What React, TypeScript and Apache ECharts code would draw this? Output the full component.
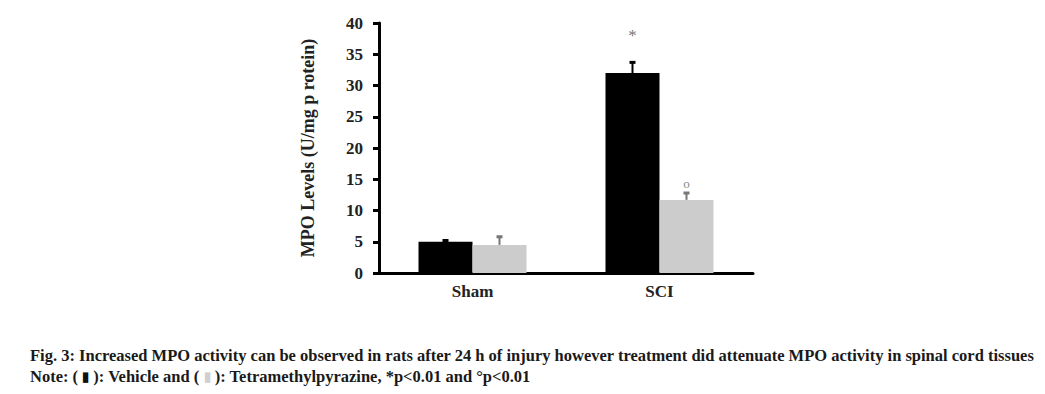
import React, { useEffect, useRef } from "react";
import * as echarts from "echarts";

const categories = ["Sham", "SCI"];
const vehicle = [5.0, 32.0];
const vehicleErr = [0.2, 1.7];
const tmp = [4.5, 11.7];
const tmpErr = [1.3, 1.1];
const vehicleMarks = ["", "*"];
const tmpMarks = ["", "o"];
const yTicks = [0, 5, 10, 15, 20, 25, 30, 35, 40];

const caption1 =
  "Fig. 3: Increased MPO activity can be observed in rats after 24 h of injury however treatment did attenuate MPO activity in spinal cord tissues";
const caption2 =
  "Note: ( {b|\u25AE} ): Vehicle and ( {g|\u25AE} ): Tetramethylpyrazine, *p<0.01 and \u00B0p<0.01";

const FONT = "'Liberation Serif', 'Times New Roman', serif";
const BAR_W = 54;

function errorSeries(name: string, values: number[], errs: number[], marks: string[], side: number, color: string, markColor: string, markSize: number, markGap: number) {
  return {
    type: "custom",
    name,
    z: 5,
    data: values.map((v, i) => [i, v, errs[i]]),
    renderItem: (params: any, api: any) => {
      const idx = api.value(0);
      const v = api.value(1);
      const e = api.value(2);
      const mark = marks[params.dataIndex];
      const base = api.coord([idx, v]);
      const top = api.coord([idx, v + e]);
      const x = base[0] + side * (BAR_W / 2);
      const children: any[] = [
        { type: "line", shape: { x1: x, y1: base[1], x2: x, y2: top[1] }, style: { stroke: color, lineWidth: 2 } },
        { type: "line", shape: { x1: x - 3, y1: top[1], x2: x + 3, y2: top[1] }, style: { stroke: color, lineWidth: 3 } },
      ];
      if (mark) {
        children.push({
          type: "text",
          style: {
            text: mark,
            x,
            y: top[1] - markGap,
            align: "center",
            verticalAlign: "middle",
            fill: markColor,
            font: `${markSize}px ${FONT}`,
          },
        });
      }
      return { type: "group", children };
    },
  };
}

export default function App() {
  const ref = useRef<HTMLDivElement>(null);
  useEffect(() => {
    if (!ref.current) return;
    const chart = echarts.init(ref.current, null, { renderer: "svg" });
    chart.setOption({
      animation: false,
      backgroundColor: "#ffffff",
      grid: { left: 379, right: 292, top: 23, bottom: 121 },
      xAxis: {
        type: "category",
        data: categories,
        axisLine: { lineStyle: { color: "#000", width: 3 } },
        axisTick: { show: false },
        axisLabel: { color: "#222", fontFamily: FONT, fontWeight: "bold", fontSize: 17, margin: 10 },
      },
      yAxis: {
        type: "value",
        min: 0,
        max: 40,
        interval: 5,
        name: "MPO Levels (U/mg p rotein)",
        nameLocation: "middle",
        nameGap: 62,
        nameTextStyle: { color: "#222", fontFamily: FONT, fontWeight: "bold", fontSize: 18 },
        splitLine: { show: false },
        axisLine: { show: true, lineStyle: { color: "#000", width: 3 } },
        axisTick: { show: true, length: 6, lineStyle: { color: "#000", width: 3 } },
        axisLabel: {
          color: "#222",
          fontFamily: FONT,
          fontWeight: "bold",
          fontSize: 17,
          margin: 16,
          formatter: (v: number) => (yTicks.includes(v) ? String(v) : ""),
        },
      },
      series: [
        { type: "bar", name: "Vehicle", data: vehicle, barWidth: BAR_W, barGap: "0%", itemStyle: { color: "#000000" } },
        { type: "bar", name: "Tetramethylpyrazine", data: tmp, barWidth: BAR_W, barGap: "0%", itemStyle: { color: "#cccccc" } },
        errorSeries("VehicleErr", vehicle, vehicleErr, vehicleMarks, -1, "#000", "#777", 17, 27),
        errorSeries("TmpErr", tmp, tmpErr, tmpMarks, 1, "#777", "#888", 13, 10),
      ],
      graphic: [
        {
          type: "text",
          left: 30,
          top: 347,
          style: { text: caption1, fill: "#1a1a1a", font: `bold 16.5px ${FONT}` },
        },
        {
          type: "text",
          left: 30,
          top: 368,
          style: {
            text: caption2,
            fill: "#1a1a1a",
            font: `bold 16.5px ${FONT}`,
            rich: {
              b: { fill: "#111111", font: `bold 13px ${FONT}` },
              g: { fill: "#cfcfcf", font: `bold 13px ${FONT}` },
            },
          },
        },
      ],
    });
    return () => chart.dispose();
  }, []);
  return <div ref={ref} style={{ position: "fixed", left: 0, top: 0, width: 1045, height: 394 }} />;
}
